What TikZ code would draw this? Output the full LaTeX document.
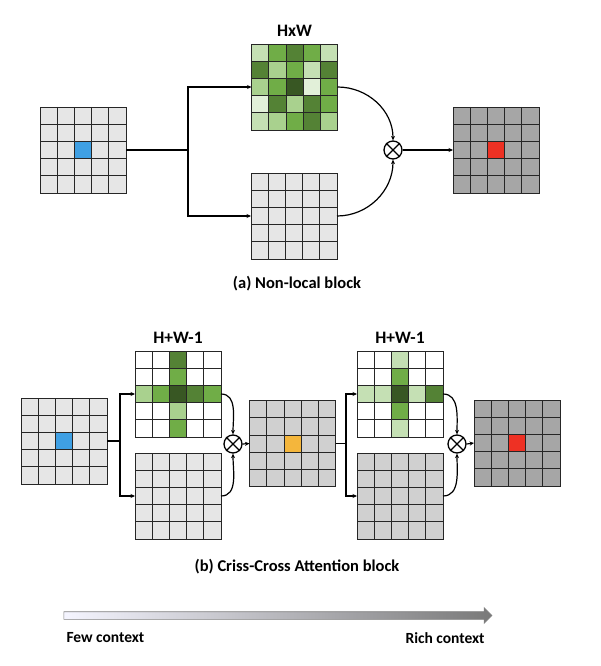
\documentclass[tikz,border=0pt]{standalone}
\usepackage{fontspec}
\setmainfont{Carlito}
\usetikzlibrary{positioning,calc,arrows.meta,shapes.arrows}

\definecolor{grayA}{HTML}{E6E6E6}
\definecolor{grayB}{HTML}{D0D0D0}
\definecolor{grayC}{HTML}{A6A6A6}
\definecolor{blueC}{HTML}{3FA0E4}
\definecolor{orangeC}{HTML}{F4B63C}
\definecolor{redC}{HTML}{EE3124}
\definecolor{gA}{HTML}{E2F0D9}
\definecolor{gB}{HTML}{C5E0B4}
\definecolor{gC}{HTML}{A9D18E}
\definecolor{gD}{HTML}{70AD47}
\definecolor{gE}{HTML}{548235}
\definecolor{gF}{HTML}{385723}

\def\cellsz{17.2}

\tikzset{
  fmap/.style={minimum size=86pt, inner sep=0pt, outer sep=0pt},
  cellline/.style={draw=black!85, line width=0.8pt},
  conn/.style={line width=1.2pt},
  arr/.style={conn, -{Stealth[length=4.5pt,width=4pt]}},
  mult/.style={circle, draw, line width=1.3pt, minimum size=18pt, inner sep=0pt},
  lbl/.style={font=\bfseries\fontsize{17.5}{20}\selectfont},
  capt/.style={font=\bfseries\fontsize{16.5}{19}\selectfont},
  endlbl/.style={font=\bfseries\fontsize{15.5}{18}\selectfont}
}

% feature map: name, centre, fill
\newcommand{\fmap}[3]{\node[fmap, fill=#3] (#1) at (#2) {};}
% coloured cells: name, list column/row/colour
\newcommand{\cells}[2]{%
  \begin{scope}[shift={(#1.north west)}]
    \foreach \cx/\cy/\cc in {#2} \fill[\cc] (\cx*\cellsz,\cy*\cellsz) rectangle ++(\cellsz,\cellsz);
  \end{scope}}
% 5x5 lines
\newcommand{\fmaplines}[1]{%
  \foreach \i in {1,...,4} {
    \draw[cellline] ($(#1.north west)+(\i*\cellsz,0)$) -- ($(#1.south west)+(\i*\cellsz,0)$);
    \draw[cellline] ($(#1.north west)+(0,\i*\cellsz)$) -- ($(#1.north east)+(0,\i*\cellsz)$);
  }
  \draw[cellline] (#1.north west) rectangle (#1.south east);}
% multiplication
\newcommand{\mult}[2]{\node[mult] (#1) at (#2) {};
  \draw[line width=1.3pt] (#1.45) -- (#1.225) (#1.135) -- (#1.-45);}

\begin{document}
\begin{tikzpicture}[x=1pt,y=-1pt]
\useasboundingbox (0,0) rectangle (600,666);

% (a) non-local
\fmap{inA}{83,150}{grayA}
\fmap{attA}{294.5,87}{white}
\fmap{valA}{294,216}{grayA}
\fmap{outA}{496,150}{grayC}
\cells{inA}{2/2/blueC}
\cells{attA}{0/0/gB,1/0/gD,2/0/gE,3/0/gD,4/0/gB,
  0/1/gE,1/1/gC,2/1/gD,3/1/gB,4/1/gE,
  0/2/gC,1/2/gD,2/2/gF,3/2/gA,4/2/gD,
  0/3/gA,1/3/gE,2/3/gC,3/3/gE,4/3/gD,
  0/4/gB,1/4/gC,2/4/gD,3/4/gE,4/4/gC}
\cells{outA}{2/2/redC}
\foreach \n in {inA,attA,valA,outA} {\fmaplines{\n}}
\node[lbl, above=4pt of attA] {HxW};
\mult{xA}{393,150}
\coordinate (brA) at (188,150);
\draw[conn] (inA.east) -- (brA);
\draw[arr] (brA) |- (attA.west);
\draw[arr] (brA) |- (valA.west);
\draw[arr] (attA.east) to[out=0,in=90] (xA.north);
\draw[arr] (valA.east) to[out=0,in=-90] (xA.south);
\draw[arr] (xA.east) -- (outA.west);
\node[capt] (capA) at (297,284) {(a) Non-local block};

% (b) criss-cross
\fmap{inB}{64,441}{grayA}
\fmap{attB1}{178,394}{white}
\fmap{valB1}{178,496}{grayA}
\fmap{midB}{292.5,443.5}{grayB}
\fmap{attB2}{400,394}{white}
\fmap{valB2}{400,496}{grayB}
\fmap{outB}{517,443}{grayC}
\cells{inB}{2/2/blueC}
\cells{attB1}{2/0/gE,2/1/gD,2/2/gF,2/3/gC,2/4/gD,0/2/gC,1/2/gD,3/2/gE,4/2/gD}
\cells{midB}{2/2/orangeC}
\cells{attB2}{2/0/gB,2/1/gD,2/2/gF,2/3/gD,2/4/gB,0/2/gB,1/2/gB,3/2/gB,4/2/gE}
\cells{outB}{2/2/redC}
\foreach \n in {inB,attB1,valB1,midB,attB2,valB2,outB} {\fmaplines{\n}}
\node[lbl, above=4pt of attB1] {H+W-1};
\node[lbl, above=4pt of attB2] {H+W-1};
\mult{xB1}{233,444}
\mult{xB2}{457,444}
\coordinate (brB1) at (120,441);
\coordinate (brB2) at (346,443.5);
\draw[conn] (inB.east) -- (brB1);
\draw[arr] (brB1) |- (attB1.west);
\draw[arr] (brB1) |- (valB1.west);
\draw[arr] (attB1.east) to[out=0,in=90] (xB1.north);
\draw[arr] (valB1.east) to[out=0,in=-90] (xB1.south);
\draw[arr] (xB1.east) -- (midB.west);
\draw[conn] (midB.east) -- (brB2);
\draw[arr] (brB2) |- (attB2.west);
\draw[arr] (brB2) |- (valB2.west);
\draw[arr] (attB2.east) to[out=0,in=90] (xB2.north);
\draw[arr] (valB2.east) to[out=0,in=-90] (xB2.south);
\draw[arr] (xB2.east) -- (outB.west);
\node[capt] (capB) at (297,567) {(b) Criss-Cross Attention block};

% context arrow
\node[single arrow, minimum height=428pt, minimum width=15pt, inner sep=3.5pt,
  single arrow head extend=4pt, left color=blue!4!white, right color=gray!95!black,
  draw=gray, line width=0.6pt] (ctx) at (276,615.5) {};
\node[endlbl, anchor=west] (few) at (63,638) {Few context};
\node[endlbl, anchor=west] (rich) at (402,638) {Rich context};
\end{tikzpicture}
\end{document}
